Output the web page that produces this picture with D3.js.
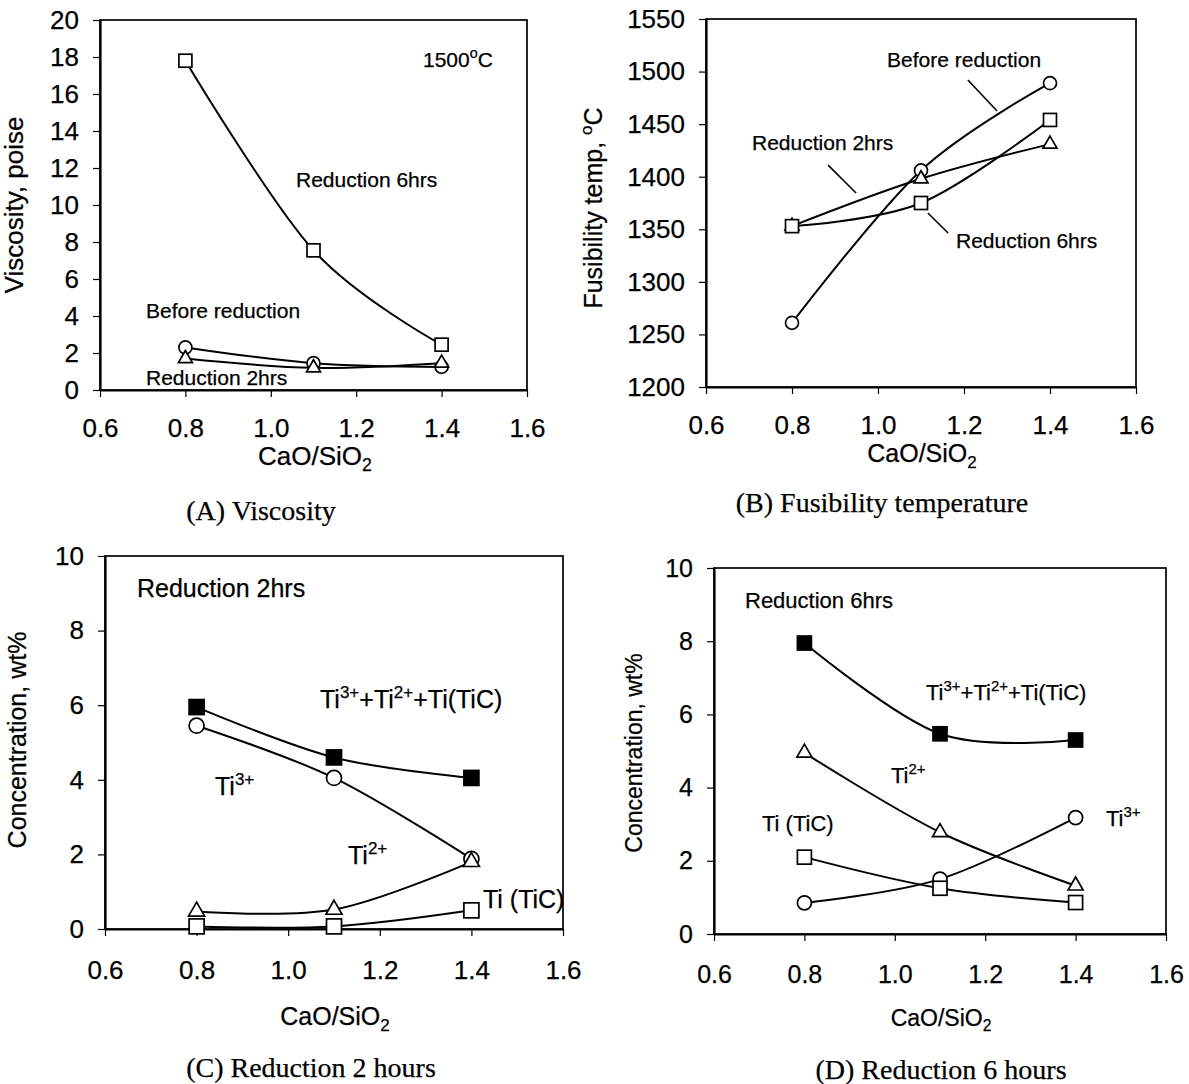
<!DOCTYPE html>
<html>
<head>
<meta charset="utf-8">
<script src="https://cdn.jsdelivr.net/npm/d3@7"></script>
<style>
    body { margin: 0; background: #fff; }
    svg text { font-family: "Liberation Sans", Arial, sans-serif; fill: #000; stroke: #000; stroke-width: 0.25; }
    svg text.caption { font-family: "Liberation Serif", "Times New Roman", serif; }
</style>
</head>
<body>
<svg id="fig" width="1189" height="1084"></svg>
<script>
// CaO/SiO2 ratios measured, and the x tick labels
const ratio = [0.8, 1.1, 1.4];
const xTicks = [0.6, 0.8, 1.0, 1.2, 1.4, 1.6];

// (A) viscosity at 1500 C, poise
const viscBefore = [2.3, 1.45, 1.25];
const visc2h = [1.7, 1.2, 1.45];
const visc6h = [17.8, 7.55, 2.45];
const viscTicks = [0, 2, 4, 6, 8, 10, 12, 14, 16, 18, 20];

// (B) fusibility temperature, C
const fusBefore = [1261, 1406, 1489];
const fus2h = [1353, 1398, 1431];
const fus6h = [1353, 1375, 1454];
const fusTicks = [1200, 1250, 1300, 1350, 1400, 1450, 1500, 1550];

// (C) reduction 2 hours, wt%
const c2Total = [5.95, 4.6, 4.05];
const c2Ti3 = [5.45, 4.05, 1.88];
const c2Ti2 = [0.47, 0.52, 1.8];
const c2TiC = [0.07, 0.07, 0.5];

// (D) reduction 6 hours, wt%
const c6Total = [7.95, 5.47, 5.3];
const c6Ti3 = [0.85, 1.5, 3.18];
const c6Ti2 = [4.95, 2.78, 1.32];
const c6TiC = [2.1, 1.25, 0.86];
const concTicks = [0, 2, 4, 6, 8, 10];

const svg = d3.select('#fig');

// text with superscripts / subscripts built from parts
function richText(g, x, y, parts, size, anchor) {
    const t = g.append('text')
        .attr('x', x)
        .attr('y', y)
        .attr('font-size', size)
        .attr('text-anchor', anchor || 'start');
    let shift = 0;
    parts.forEach(p => {
        const target = p.sup ? -0.42 * size : p.sub ? 0.22 * size : 0;
        const ts = t.append('tspan').attr('dy', target - shift).text(p.t);
        if (p.sup || p.sub) ts.attr('font-size', size * 0.68);
        shift = target;
    });
    return t;
}

const sio2 = [{t: 'CaO/SiO'}, {t: '2', sub: true}];
const tiSum = [{t: 'Ti'}, {t: '3+', sup: true}, {t: '+Ti'}, {t: '2+', sup: true}, {t: '+Ti(TiC)'}];
const ti3 = [{t: 'Ti'}, {t: '3+', sup: true}];
const ti2 = [{t: 'Ti'}, {t: '2+', sup: true}];

function drawPanel(p) {
    const g = svg.append('g');

    const x = d3.scaleLinear().domain([0.6, 1.6]).range([p.left, p.right]);
    const y = d3.scaleLinear().domain(p.yDomain).range([p.bottom, p.top]);

    // frame
    g.append('rect')
        .attr('x', p.left)
        .attr('y', p.top)
        .attr('width', p.right - p.left)
        .attr('height', p.bottom - p.top)
        .attr('fill', 'none')
        .attr('stroke', '#000')
        .attr('stroke-width', 1.7);

    const xAxis = d3.axisBottom(x)
        .tickValues(xTicks)
        .tickFormat(d3.format('.1f'))
        .tickSize(7)
        .tickSizeOuter(0)
        .tickPadding(p.xPad);

    const yAxis = d3.axisLeft(y)
        .tickValues(p.yTicks)
        .tickFormat(d3.format('d'))
        .tickSize(7)
        .tickSizeOuter(0)
        .tickPadding(14);

    [g.append('g').attr('transform', `translate(0,${p.bottom})`).call(xAxis),
     g.append('g').attr('transform', `translate(${p.left},0)`).call(yAxis)]
        .forEach(a => {
            a.attr('font-family', null).attr('font-size', p.tickFs);
            a.select('.domain').attr('stroke-width', 2.2);
            a.selectAll('.tick line').attr('stroke-width', 1.2);
        });

    // axis titles
    g.append('text')
        .attr('transform', `translate(${p.yTitle[0]},${p.yTitle[1]}) rotate(-90)`)
        .attr('text-anchor', 'middle')
        .attr('dy', '0.35em')
        .attr('font-size', p.titleFs)
        .call(t => {
            let shift = 0;
            p.yTitleParts.forEach(part => {
                const target = part.sup ? -0.42 * p.titleFs : 0;
                const ts = t.append('tspan').attr('dy', target - shift).text(part.t);
                if (part.sup) ts.attr('font-size', p.titleFs * 0.68);
                shift = target;
            });
        });

    richText(g, p.xTitle[0], p.xTitle[1], sio2, p.titleFs, 'middle');

    // lines
    const line = d3.line()
        .x((d, i) => x(ratio[i]))
        .y(d => y(d))
        .curve(d3.curveCardinal.tension(0));

    p.series.forEach(s => {
        g.append('path')
            .datum(s.values)
            .attr('fill', 'none')
            .attr('stroke', '#000')
            .attr('stroke-width', 2)
            .attr('d', line);
    });

    // markers drawn in order: circle, triangle, open square, filled square
    const order = {circle: 0, triangle: 1, square: 2, filled: 3};
    const sz = p.marker;
    p.series.slice().sort((a, b) => order[a.marker] - order[b.marker]).forEach(s => {
        const pts = g.selectAll(null)
            .data(s.values)
            .enter();
        if (s.marker === 'circle') {
            pts.append('circle')
                .attr('cx', (d, i) => x(ratio[i]))
                .attr('cy', d => y(d))
                .attr('r', sz / 2)
                .attr('fill', '#fff')
                .attr('stroke', '#000')
                .attr('stroke-width', 1.7);
        } else if (s.marker === 'triangle') {
            pts.append('path')
                .attr('d', d3.symbol().type(d3.symbolTriangle).size(0.433 * sz * sz * 1.15))
                .attr('transform', (d, i) => `translate(${x(ratio[i])},${y(d)})`)
                .attr('fill', '#fff')
                .attr('stroke', '#000')
                .attr('stroke-width', 1.7);
        } else {
            pts.append('rect')
                .attr('x', (d, i) => x(ratio[i]) - sz / 2)
                .attr('y', d => y(d) - sz / 2)
                .attr('width', sz)
                .attr('height', sz)
                .attr('fill', s.marker === 'filled' ? '#000' : '#fff')
                .attr('stroke', '#000')
                .attr('stroke-width', 1.7);
        }
    });

    // leader lines (data space)
    (p.leaders || []).forEach(l => {
        g.append('line')
            .attr('x1', x(l[0])).attr('y1', y(l[1]))
            .attr('x2', x(l[2])).attr('y2', y(l[3]))
            .attr('stroke', '#000')
            .attr('stroke-width', 1.6);
    });

    p.labels.forEach(l => {
        richText(g, l.x, l.y, typeof l.parts === 'string' ? [{t: l.parts}] : l.parts, p.labelFs);
    });

    g.append('text')
        .attr('class', 'caption')
        .attr('x', p.caption[0])
        .attr('y', p.caption[1])
        .attr('text-anchor', 'middle')
        .attr('font-size', 28)
        .text(p.captionText);
}

drawPanel({
    left: 100, right: 527, top: 20, bottom: 390,
    yDomain: [0, 20], yTicks: viscTicks,
    tickFs: 26, titleFs: 26, labelFs: 21, xPad: 22, marker: 13,
    yTitle: [23, 205], yTitleParts: [{t: 'Viscosity, poise'}],
    xTitle: [315, 465],
    series: [
        {values: visc6h, marker: 'square'},
        {values: viscBefore, marker: 'circle'},
        {values: visc2h, marker: 'triangle'}
    ],
    labels: [
        {parts: [{t: '1500'}, {t: 'o', sup: true}, {t: 'C'}], x: 423, y: 67},
        {parts: 'Reduction 6hrs', x: 296, y: 187},
        {parts: 'Before reduction', x: 146, y: 318},
        {parts: 'Reduction 2hrs', x: 146, y: 385}
    ],
    caption: [261, 520], captionText: '(A) Viscosity'
});

drawPanel({
    left: 706, right: 1136, top: 19, bottom: 387,
    yDomain: [1200, 1550], yTicks: fusTicks,
    tickFs: 26, titleFs: 25, labelFs: 21, xPad: 22, marker: 13,
    yTitle: [602, 208], yTitleParts: [{t: 'Fusibility temp, '}, {t: 'o', sup: true}, {t: 'C'}],
    xTitle: [922, 462],
    series: [
        {values: fusBefore, marker: 'circle'},
        {values: fus2h, marker: 'triangle'},
        {values: fus6h, marker: 'square'}
    ],
    leaders: [
        [1.209, 1492, 1.277, 1462.5],
        [0.884, 1411, 0.949, 1384.5],
        [1.116, 1365.5, 1.163, 1346.5]
    ],
    labels: [
        {parts: 'Before reduction', x: 887, y: 67},
        {parts: 'Reduction 2hrs', x: 752, y: 150},
        {parts: 'Reduction 6hrs', x: 956, y: 248}
    ],
    caption: [882, 512], captionText: '(B) Fusibility temperature'
});

drawPanel({
    left: 105, right: 563, top: 556, bottom: 929,
    yDomain: [0, 10], yTicks: concTicks,
    tickFs: 26, titleFs: 25, labelFs: 25, xPad: 25, marker: 15,
    yTitle: [26, 740], yTitleParts: [{t: 'Concentration, wt%'}],
    xTitle: [335, 1025],
    series: [
        {values: c2Total, marker: 'filled'},
        {values: c2Ti3, marker: 'circle'},
        {values: c2Ti2, marker: 'triangle'},
        {values: c2TiC, marker: 'square'}
    ],
    labels: [
        {parts: 'Reduction 2hrs', x: 137, y: 597},
        {parts: tiSum, x: 320, y: 708},
        {parts: ti3, x: 215, y: 795},
        {parts: ti2, x: 348, y: 864},
        {parts: 'Ti (TiC)', x: 483, y: 908}
    ],
    caption: [311, 1077], captionText: '(C) Reduction 2 hours'
});

drawPanel({
    left: 714, right: 1166, top: 568, bottom: 934,
    yDomain: [0, 10], yTicks: concTicks,
    tickFs: 25, titleFs: 23, labelFs: 22, xPad: 24, marker: 14,
    yTitle: [642, 753], yTitleParts: [{t: 'Concentration, wt%'}],
    xTitle: [941, 1026],
    series: [
        {values: c6Total, marker: 'filled'},
        {values: c6Ti3, marker: 'circle'},
        {values: c6Ti2, marker: 'triangle'},
        {values: c6TiC, marker: 'square'}
    ],
    labels: [
        {parts: 'Reduction 6hrs', x: 745, y: 608},
        {parts: tiSum, x: 926, y: 700},
        {parts: ti2, x: 891, y: 783},
        {parts: 'Ti (TiC)', x: 762, y: 831},
        {parts: ti3, x: 1106, y: 826}
    ],
    caption: [941, 1079], captionText: '(D) Reduction 6 hours'
});
</script>
</body>
</html>
